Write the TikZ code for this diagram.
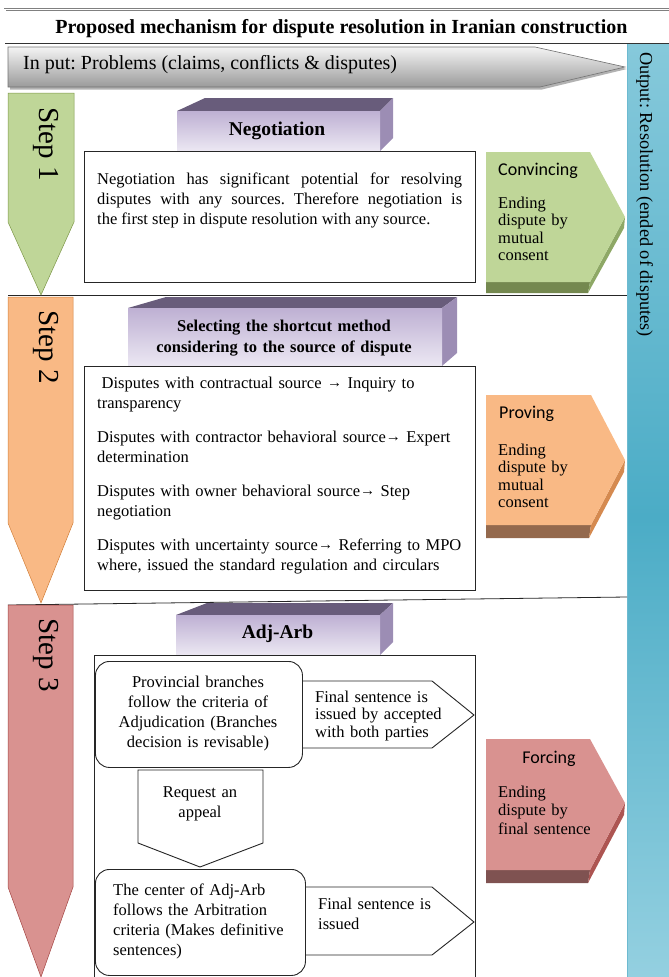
\documentclass[tikz,border=0pt]{standalone}
\usepackage{fontspec}
\setmainfont{Liberation Serif}
\newfontfamily\calibrifont{Carlito}
\usetikzlibrary{calc}
\frenchspacing

\definecolor{outTop}{HTML}{86C9DB}
\definecolor{outMid}{HTML}{4BACC6}
\definecolor{outBot}{HTML}{96D1E1}
\definecolor{outEdge}{HTML}{6DBAD0}
\definecolor{inTop}{HTML}{F4F4F4}
\definecolor{inBot}{HTML}{9A9A9A}
\definecolor{grnLight}{HTML}{BFD698}
\definecolor{grn}{HTML}{9BBB59}
\definecolor{grnBand}{HTML}{74884F}
\definecolor{grnSide}{HTML}{8EA866}
\definecolor{orgLight}{HTML}{F9B985}
\definecolor{org}{HTML}{F79646}
\definecolor{orgBand}{HTML}{94694D}
\definecolor{orgSide}{HTML}{D58A50}
\definecolor{redLight}{HTML}{D99290}
\definecolor{redm}{HTML}{C0504D}
\definecolor{redBand}{HTML}{7F5251}
\definecolor{redSide}{HTML}{AD5552}
\definecolor{boxTop}{HTML}{685C7B}
\definecolor{boxSide}{HTML}{9C8DB4}
\definecolor{boxFrontTop}{HTML}{BEB0D3}
\definecolor{boxFrontBot}{HTML}{ECE8F3}

\newcommand\srcarrow{{\fontsize{15}{15}\selectfont\raisebox{0.3pt}{→}}}

\begin{document}
\begin{tikzpicture}[x=1pt,y=-1pt,
  body/.style={inner sep=0pt, font=\fontsize{16.5}{20}\selectfont},
  tightbody/.style={inner sep=0pt, font=\fontsize{16.5}{17.5}\selectfont},
  headtext/.style={inner sep=0pt, font=\bfseries\fontsize{19.5}{22}\selectfont},
  steptext/.style={inner sep=0pt, rotate=-90, anchor=base west, font=\fontsize{29}{30}\selectfont},
  modetext/.style={inner sep=0pt, anchor=base west, font=\calibrifont\fontsize{18}{20}\selectfont},
  leftblock/.style={anchor=base west, align=left, text width=#1},
  midblock/.style={anchor=base, align=center, text width=#1},
  framebox/.style={draw=black!85, line width=0.9pt, fill=white},
  roundbox/.style={framebox, rounded corners=14pt},
  topface/.style={fill=boxTop},
  sideface/.style={fill=boxSide},
  frontface/.style={top color=boxFrontTop, bottom color=boxFrontBot},
  separator/.style={draw=black!85, line width=0.8pt},
]
\useasboundingbox (0,0) rectangle (669,977);
\begin{scope}
\clip (0,0) rectangle (669,977);

% ---------- output column ----------
\shade[top color=outTop, bottom color=outBot, middle color=outMid] (627,43) rectangle (680,990);
\draw[outEdge, line width=0.8pt] (627,43) -- (627,990);

% ---------- outer frame and title ----------
\draw[gray, double, double distance=1.2pt, line width=0.5pt] (5,9.5) rectangle (700,1000);
\draw[black!80, line width=0.8pt] (5,43) -- (669,43);
\node[anchor=base, inner sep=0pt, font=\bfseries\fontsize{20}{22}\selectfont] (title) at (341.5,33.5)
  {Proposed mechanism for dispute resolution in Iranian construction};

% ---------- input arrow ----------
\fill[black!30] (10,49) -- (537,49) -- (627,69) -- (542,89.5) -- (10,89.5) -- cycle;
\shade[top color=inTop, bottom color=inBot] (8,47) -- (535,47) -- (625,67) -- (540,87) -- (8,87) -- cycle;
\draw[black!55, line width=0.6pt] (8,47) -- (535,47) -- (625,67) -- (540,87) -- (8,87) -- cycle;
\node[anchor=base west, inner sep=0pt, font=\fontsize{20}{22}\selectfont] (input) at (23,69)
  {In put: Problems (claims, conflicts \& disputes)};

% ---------- output label ----------
\node[rotate=-90, anchor=base west, inner sep=0pt, font=\fontsize{18.3}{20}\selectfont] (output) at (640,52)
  {Output: Resolution (ended of disputes)};

% ---------- section separators ----------
\draw[separator] (8,295) -- (627,295);
\draw[separator] (8,605) -- (627,597);

% ---------- step arrows ----------
\shade[top color=grnLight, middle color=grn, bottom color=grnLight] (8,93) -- (74,93) -- (74,222) -- (41,295) -- (8,222) -- cycle;
\draw[grn!80!black, line width=0.5pt] (8,93) -- (74,93) -- (74,222) -- (41,295) -- (8,222) -- cycle;
\shade[top color=orgLight, middle color=org, bottom color=orgLight] (8,297) -- (73,297) -- (73,523) -- (41,603) -- (8,523) -- cycle;
\draw[org!85!black, line width=0.5pt] (8,297) -- (73,297) -- (73,523) -- (41,603) -- (8,523) -- cycle;
\shade[top color=redLight, middle color=redm, bottom color=redLight] (8,605) -- (73,605) -- (73,887) -- (41,977) -- (8,887) -- cycle;
\draw[redm!85!black, line width=0.5pt] (8,605) -- (73,605) -- (73,887) -- (41,977) -- (8,887) -- cycle;
\node[steptext] (step1) at (39,107) {Step 1};
\node[steptext] (step2) at (39,310) {Step 2};
\node[steptext] (step3) at (39,618) {Step 3};

% ---------- step 1 ----------
\fill[topface] (177,111) -- (205,98) -- (393,98) -- (380,111) -- cycle;
\fill[sideface] (380,111) -- (393,98) -- (393,138) -- (380,151) -- cycle;
\shade[frontface] (177,111) rectangle (380,151);
\node[headtext, anchor=base] (neghead) at (277,135) {Negotiation};
\node[framebox, anchor=north west, minimum width=391pt, minimum height=131pt, inner sep=0pt] (negbox) at (84,151) {};
\node[body, anchor=base west, text width=365pt, align=justify] (negtext) at (97,184)
  {\noindent Negotiation has significant potential for resolving\linebreak disputes with any sources. Therefore negotiation is\linebreak the first step in dispute resolution with any source.};

\fill[grnBand] (486,282) -- (590,282) -- (588,293) -- (486,293) -- cycle;
\fill[grnSide] (590,282) -- (625,217) -- (624,228) -- (588,293) -- cycle;
\shade[top color=grnLight, middle color=grn, bottom color=grnLight] (486,152) -- (590,152) -- (625,217) -- (590,282) -- (486,282) -- cycle;
\node[modetext] (convincing) at (498,175) {Convincing};
\node[tightbody, leftblock=120pt] (convtext) at (498,208) {Ending\\dispute by\\mutual\\consent};

% ---------- step 2 ----------
\fill[topface] (128,308) -- (166,297) -- (457,297) -- (442,308) -- cycle;
\fill[sideface] (442,308) -- (457,297) -- (457,353) -- (442,366) -- cycle;
\shade[frontface] (128,308) rectangle (442,366);
\node[inner sep=0pt, midblock=320pt, font=\bfseries\fontsize{16.5}{21}\selectfont] (shorthead) at (284,331)
  {Selecting the shortcut method\\considering to the source of dispute};
\node[framebox, anchor=north west, minimum width=391pt, minimum height=224pt, inner sep=0pt] (srcbox) at (84,366) {};
\node[body, leftblock=375pt] (srctext) at (97,388)
  {\hspace*{4.5pt}Disputes with contractual source \srcarrow{} Inquiry to\\
   transparency\\[14pt]
   Disputes with contractor behavioral source\srcarrow{} Expert\\
   determination\\[14pt]
   Disputes with owner behavioral source\srcarrow{} Step\\
   negotiation\\[14pt]
   Disputes with uncertainty source\srcarrow{} Referring to MPO\\
   where, issued the standard regulation and circulars};

\fill[orgBand] (486,525) -- (591,525) -- (589,538) -- (486,538) -- cycle;
\fill[orgSide] (591,525) -- (625,460) -- (624,472) -- (589,538) -- cycle;
\shade[top color=orgLight, middle color=org, bottom color=orgLight] (486,395) -- (591,395) -- (625,460) -- (591,525) -- (486,525) -- cycle;
\node[modetext] (proving) at (499,418) {Proving};
\node[tightbody, leftblock=120pt] (provtext) at (498,455) {Ending\\dispute by\\mutual\\consent};

% ---------- step 3 ----------
\fill[topface] (176,615) -- (207,603) -- (393,603) -- (380,615) -- cycle;
\fill[sideface] (380,615) -- (393,603) -- (393,642) -- (380,655) -- cycle;
\shade[frontface] (176,615) rectangle (380,655);
\node[headtext, anchor=base] (adjhead) at (277.5,638) {Adj-Arb};
\node[framebox, anchor=north west, minimum width=381pt, minimum height=340pt, inner sep=0pt] (adjbox) at (94,655) {};

\draw[framebox] (302,681) -- (432,681) -- (474,715) -- (432,748) -- (302,748);
\draw[framebox] (305,887) -- (432,887) -- (474,922) -- (432,955) -- (305,955);
\draw[framebox] (138,770) -- (263,770) -- (263,843) -- (200,867) -- (138,843) -- cycle;
\node[roundbox, anchor=north west, minimum width=207pt, minimum height=106pt, inner sep=0pt] (branches) at (95,661) {};
\node[roundbox, anchor=north west, minimum width=210pt, minimum height=106pt, inner sep=0pt] (center) at (95,869) {};

\node[body, midblock=200pt] (branchtext) at (198,687)
  {Provincial branches\\follow the criteria of\\Adjudication (Branches\\decision is revisable)};
\node[tightbody, leftblock=150pt] (final1) at (315,702)
  {Final sentence is\\issued by accepted\\with both parties};
\node[body, midblock=120pt] (appeal) at (200,797) {Request an\\appeal};
\node[body, leftblock=200pt] (centertext) at (113,895)
  {The center of Adj-Arb\\follows the Arbitration\\criteria (Makes definitive\\sentences)};
\node[body, leftblock=150pt] (final2) at (318,909) {Final sentence is\\issued};

\fill[redBand] (486,870) -- (590,870) -- (588,883) -- (486,883) -- cycle;
\fill[redSide] (590,870) -- (625,803) -- (624,815) -- (588,883) -- cycle;
\shade[top color=redLight, middle color=redm, bottom color=redLight] (486,739) -- (590,739) -- (625,803) -- (590,870) -- (486,870) -- cycle;
\node[modetext, anchor=base] (forcing) at (549,763) {Forcing};
\node[inner sep=0pt, leftblock=125pt, font=\fontsize{16.5}{18.5}\selectfont] (forctext) at (498,797)
  {Ending\\dispute by\\final sentence};

\end{scope}
\end{tikzpicture}
\end{document}
